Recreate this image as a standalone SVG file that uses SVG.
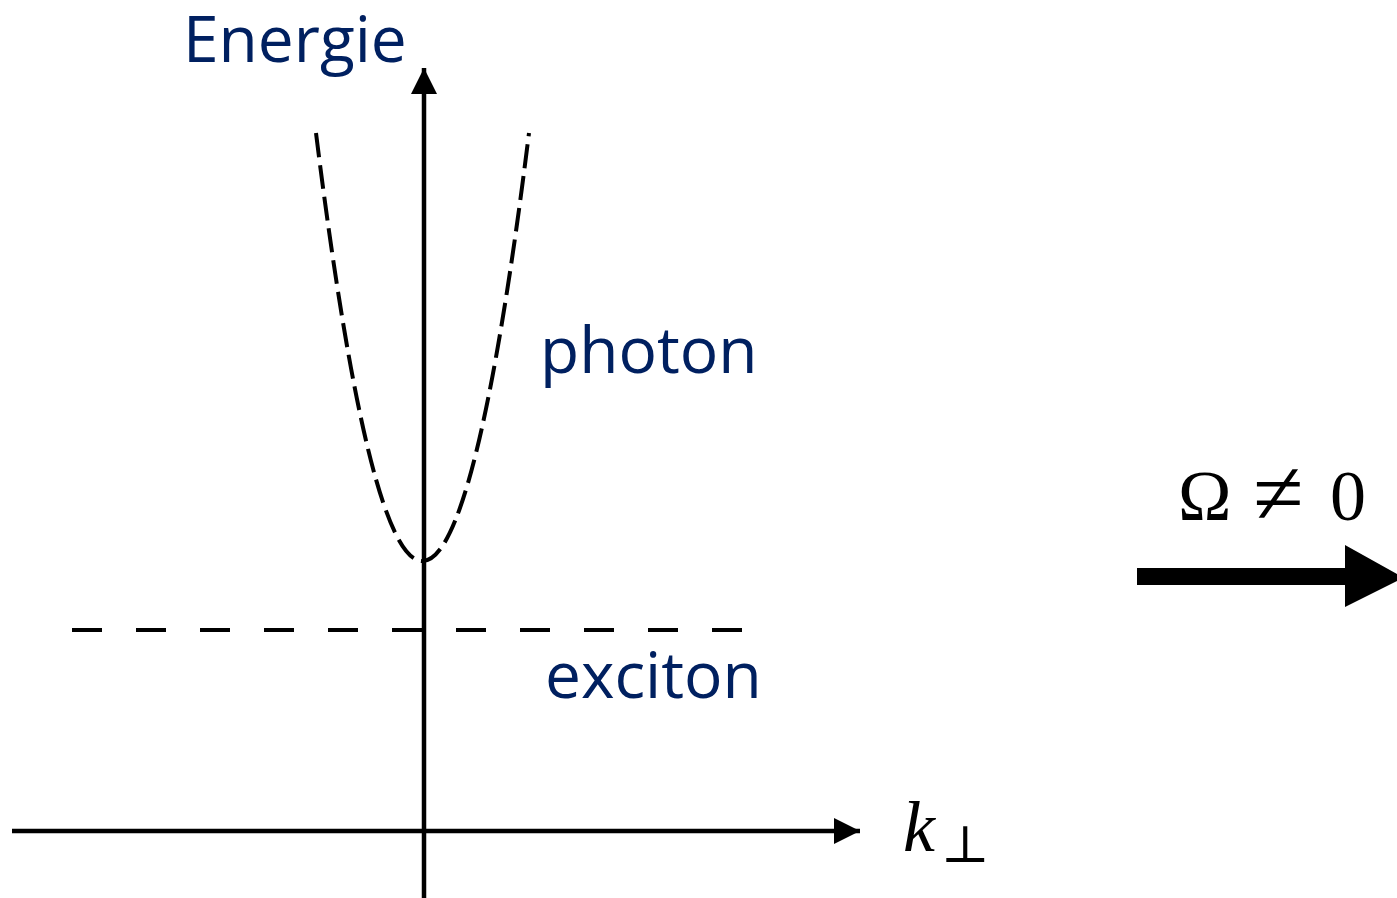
<svg xmlns="http://www.w3.org/2000/svg" width="1397" height="898" viewBox="0 0 1397 898">
<style>
.lbl{font-family:"Open Sans","Noto Sans",sans-serif;fill:#002060;font-size:64px}
.math{font-family:"Liberation Serif","DejaVu Serif",serif;fill:#000}
.axis{stroke:#000;stroke-width:4.5;fill:none}
</style>
<defs>
<marker id="ah" markerUnits="userSpaceOnUse" markerWidth="28" markerHeight="26" refX="26" refY="13" orient="auto">
<path d="M0,0 L26,13 L0,26 Z" fill="#000"/>
</marker>
</defs>
<rect width="1397" height="898" fill="#fff"/>
<g id="connectors">
<line class="axis" x1="424" y1="898" x2="424" y2="68" marker-end="url(#ah)"/>
<line class="axis" x1="12" y1="831" x2="860" y2="831" marker-end="url(#ah)"/>
</g>
<g id="photon-curve">
<path d="M316,133 Q422.5,989 529,133" fill="none" stroke="#000" stroke-width="4" stroke-dasharray="24,8"/>
</g>
<g id="exciton-line">
<line x1="72" y1="630" x2="745" y2="630" stroke="#000" stroke-width="4" stroke-dasharray="30,34"/>
</g>
<g id="energie-label"><text class="lbl" x="183" y="62">Energie</text></g>
<g id="photon-label"><text class="lbl" x="540" y="373">photon</text></g>
<g id="exciton-label"><text class="lbl" x="545" y="698">exciton</text></g>
<g id="k-label">
<text class="math" x="903" y="851" font-size="72" font-style="italic">k</text>
<text class="math" x="941" y="862" font-size="52">⊥</text>
</g>
<g id="omega-arrow">
<text class="math" x="1178" y="520" font-size="72">Ω</text>
<text class="math" x="1253" y="524" font-size="92">≠</text>
<text class="math" x="1330" y="520" font-size="72">0</text>
<path d="M1137,568 L1345,568 L1345,545 L1397,574 L1397,581 L1345,607 L1345,585 L1137,585 Z" fill="#000"/>
</g>
</svg>
